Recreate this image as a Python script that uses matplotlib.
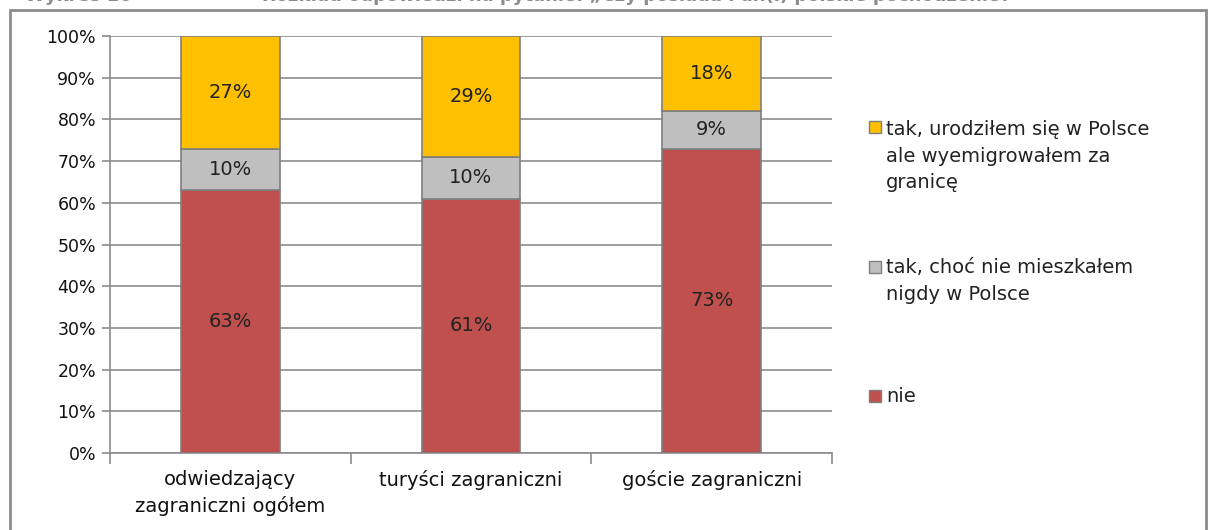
import matplotlib.pyplot as plt
from matplotlib.patches import Rectangle

categories = ["odwiedzający\nzagraniczni ogółem", "turyści zagraniczni", "goście zagraniczni"]
nie = [63, 61, 73]
tak_nie_mieszkal = [10, 10, 9]
tak_wyemigrowal = [27, 29, 18]
series_labels = ["nie", "tak, choć nie mieszkałem\nnigdy w Polsce",
                 "tak, urodziłem się w Polsce\nale wyemigrowałem za\ngranicę"]
colors = ["#C0504D", "#BFBFBF", "#FFC000"]

plt.rcParams["font.family"] = ["DejaVu Sans"]

W, H = 1209, 530
fig = plt.figure(figsize=(W / 100, H / 100), dpi=100)

# outer frame (bottom cut off like the source)
fig.patches.append(Rectangle((10 / W, -0.05), (W - 13) / W, (H - 10) / H + 0.05,
                             transform=fig.transFigure, fill=False,
                             edgecolor="#8C8C8C", linewidth=2))
# caption at the very top, clipped like in the source
fig.text(25 / W, 1.0 + 4 / H, "Wykres 16", fontsize=13, fontweight="bold",
         color="#8C8C8C", va="center")
fig.text(262 / W, 1.0 + 4 / H,
         "Rozkład odpowiedzi na pytanie: „Czy posiada Pan(i) polskie pochodzenie?”",
         fontsize=13, fontweight="bold", color="#8C8C8C", va="center")

ax = fig.add_axes([110 / W, (H - 453) / H, 722 / W, 417 / H])
x = range(len(categories))
bottom = [0] * len(categories)
for vals, col in zip([nie, tak_nie_mieszkal, tak_wyemigrowal], colors):
    bars = ax.bar(x, vals, bottom=bottom, width=0.41, color=col,
                  edgecolor="#7F7F7F", linewidth=1.2, zorder=3)
    for b, v, bt in zip(bars, vals, bottom):
        ax.text(b.get_x() + b.get_width() / 2, bt + v / 2, f"{v}%",
                ha="center", va="center", fontsize=14, color="#222222", zorder=4)
    bottom = [b + v for b, v in zip(bottom, vals)]

ax.set_xlim(-0.5, 2.5)
ax.set_ylim(0, 100)
ax.set_yticks(range(0, 101, 10))
ax.set_yticklabels([f"{t}%" for t in range(0, 101, 10)], fontsize=12.5, color="#111111")
ax.set_xticks([-0.5, 0.5, 1.5, 2.5], minor=False)
ax.set_xticklabels([])
ax.set_xticks(list(x), minor=True)
ax.set_xticklabels(categories, minor=True, fontsize=14, color="#111111")
for lbl in ax.get_xticklabels(minor=True):
    lbl.set_linespacing(1.45)
ax.tick_params(axis="x", which="major", length=8, color="#8C8C8C", width=1.2)
ax.tick_params(axis="x", which="minor", length=0, pad=12)
ax.tick_params(axis="y", length=6, color="#8C8C8C", width=1.2, pad=4)
ax.yaxis.grid(True, color="#8C8C8C", linewidth=1.2, zorder=0)
for s in ["top", "right"]:
    ax.spines[s].set_visible(False)
for s in ["left", "bottom"]:
    ax.spines[s].set_color("#8C8C8C")
    ax.spines[s].set_linewidth(1.2)

# legend drawn by hand, top to bottom
legend_y = [156, 281, 396]
for lab, col, yy in zip(series_labels[::-1], colors[::-1], legend_y):
    nlines = lab.count("\n") + 1
    top_line = yy - (nlines - 1) * 14.5
    fig.patches.append(Rectangle((869 / W, (H - top_line - 6) / H), 12 / W, 12 / H,
                                 transform=fig.transFigure, facecolor=col,
                                 edgecolor="#7F7F7F", linewidth=1))
    fig.text(886 / W, (H - yy) / H, lab, fontsize=14, color="#222222",
             va="center", ha="left", linespacing=1.5)

fig.savefig("out.png", dpi=100)
